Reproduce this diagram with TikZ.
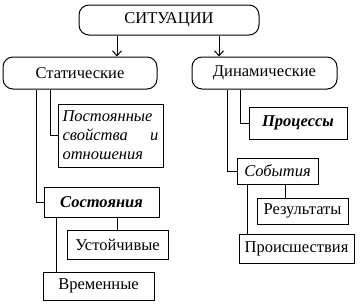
\documentclass[tikz,border=0pt]{standalone}
\usepackage{fontspec}
\setmainfont{Liberation Serif}
\usetikzlibrary{arrows.meta,positioning,calc}

\begin{document}
\begin{tikzpicture}[x=1pt,y=-1pt,line width=1pt,
  font=\fontsize{16.5}{19}\selectfont,
  rbox/.style={draw,rounded corners=10pt,inner sep=0pt},
  box/.style={draw,inner sep=0pt},
  arr/.style={-{Straight Barb[length=5pt,width=9pt,line width=1pt]}}]
\useasboundingbox (0,0) rectangle (362,308);
% top level
\node[rbox,minimum width=180,minimum height=30] (sit) at (169,20) {СИТУАЦИИ};
\node[rbox,minimum width=154,minimum height=32] (stat) at (80,73) {Статические};
\node[rbox,minimum width=145,minimum height=32] (dyn) at (264.5,73) {Динамические};
\coordinate (a1) at (117,0);
\coordinate (a2) at (219,0);
\foreach \c/\n in {a1/stat,a2/dyn} \draw[arr] (sit.south -| \c) -- (\n.north -| \c);
% static branch
\node[box,minimum width=105,minimum height=63,align=left,font=\fontsize{16.5}{19}\selectfont\itshape] (post) at (110.5,135.5)
  {\parbox{96pt}{Постоянные\\свойства\hfill и\\отношения}};
\node[box,minimum width=115,minimum height=30,font=\fontsize{16.5}{19}\selectfont\bfseries\itshape] (sost) at (101.5,202) {Состояния};
\node[box,minimum width=101,minimum height=29] (ust) at (117.5,244.5) {Устойчивые};
\node[box,minimum width=111,minimum height=28] (vrem) at (98.5,286) {Временные};
\coordinate (s1) at (50,0);
\coordinate (s2) at (36,0);
\draw (stat.south -| s1) |- (post.west);
\draw (stat.south -| s2) |- (sost.west);
\coordinate (c1) at (117,0);
\coordinate (c2) at (56,0);
\draw (sost.south -| c1) -- (ust.north -| c1);
\draw (sost.south -| c2) -- (vrem.north -| c2);
% dynamic branch
\node[box,minimum width=98,minimum height=32,font=\fontsize{16.5}{19}\selectfont\bfseries\itshape] (proc) at (298,123) {Процессы};
\node[box,minimum width=81,minimum height=26,font=\fontsize{16.5}{19}\selectfont\itshape] (sob) at (277.5,171) {События};
\node[box,minimum width=91,minimum height=26] (rez) at (302.5,211) {Результаты};
\node[box,minimum width=115,minimum height=29] (proish) at (296.5,248.5) {Происшествия};
\coordinate (d1) at (240,0);
\coordinate (d2) at (227,0);
\draw (dyn.south -| d1) |- (proc.west);
\draw (dyn.south -| d2) |- (sob.west);
\coordinate (e1) at (285,0);
\coordinate (e2) at (247,0);
\draw (sob.south -| e1) -- (rez.north -| e1);
\draw (sob.south -| e2) -- (proish.north -| e2);
\end{tikzpicture}
\end{document}
